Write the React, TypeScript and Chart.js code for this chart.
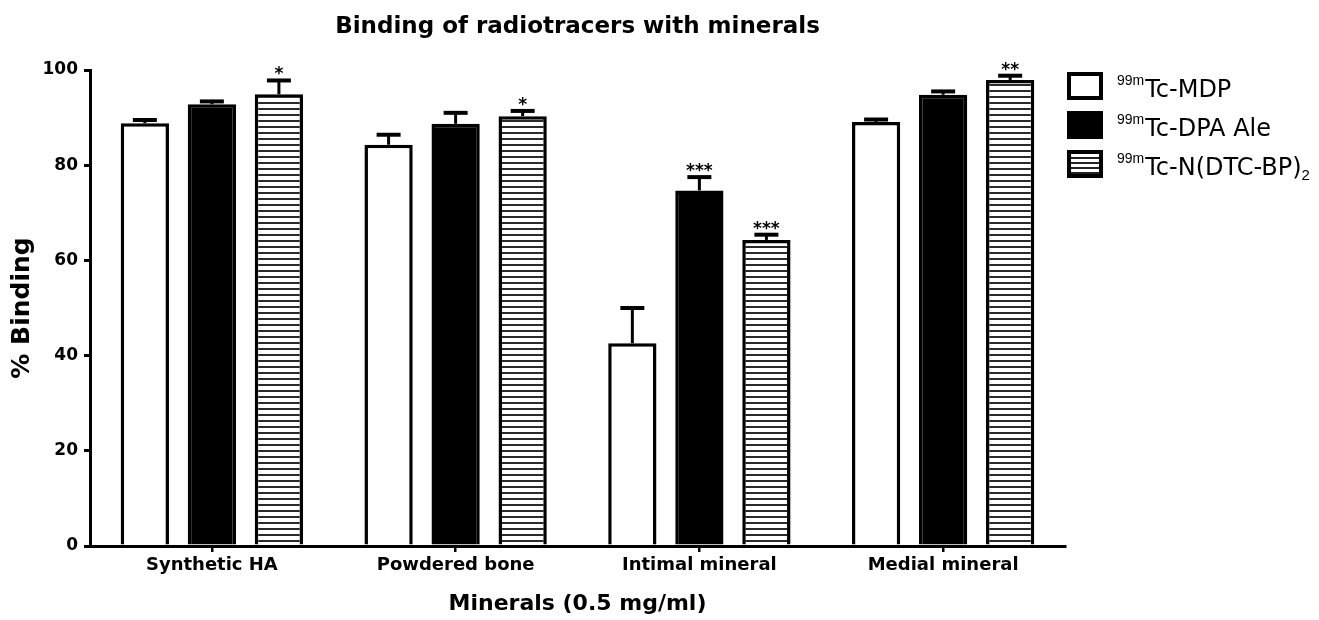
import React, { useEffect, useRef } from "react";
import { Chart, registerables } from "chart.js";

Chart.register(...registerables);

const categories = ["Synthetic HA", "Powdered bone", "Intimal mineral", "Medial mineral"];
const mdpValues = [88.8, 84.3, 42.6, 89.1];
const mdpErrors = [0.7, 2.1, 7.4, 0.5];
const dpaValues = [92.8, 88.7, 74.7, 94.8];
const dpaErrors = [0.6, 2.3, 2.8, 0.7];
const dtcValues = [94.9, 90.3, 64.3, 97.9];
const dtcErrors = [2.9, 1.1, 1.1, 0.9];
const mdpSig = ["", "", "", ""];
const dpaSig = ["", "", "***", ""];
const dtcSig = ["*", "*", "***", "**"];
const yMin = 0;
const yMax = 100;
const yStep = 20;

const FONT = "'DejaVu Sans', sans-serif";

const errorBarPlugin = {
  id: "errorBars",
  afterDatasetsDraw(chart: any) {
    const ctx = chart.ctx;
    const yScale = chart.scales.y;
    chart.data.datasets.forEach((ds: any, i: number) => {
      const meta = chart.getDatasetMeta(i);
      meta.data.forEach((bar: any, j: number) => {
        const v = ds.data[j];
        const top = yScale.getPixelForValue(v + ds.errors[j]);
        ctx.save();
        ctx.strokeStyle = "#000";
        ctx.lineWidth = 3;
        ctx.beginPath();
        ctx.moveTo(bar.x, bar.y);
        ctx.lineTo(bar.x, top);
        ctx.stroke();
        ctx.lineWidth = 4;
        ctx.beginPath();
        ctx.moveTo(bar.x - 12, top);
        ctx.lineTo(bar.x + 12, top);
        ctx.stroke();
        if (ds.sig[j]) {
          ctx.fillStyle = "#000";
          ctx.font = `bold 17px ${FONT}`;
          ctx.textAlign = "center";
          ctx.textBaseline = "alphabetic";
          ctx.fillText(ds.sig[j], bar.x, top - 1);
        }
        ctx.restore();
      });
    });
  },
};

function makeStripePattern(): CanvasPattern | string {
  const c = document.createElement("canvas");
  c.width = 8;
  c.height = 6;
  const g = c.getContext("2d");
  if (!g) return "#fff";
  g.fillStyle = "#fff";
  g.fillRect(0, 0, 8, 6);
  g.fillStyle = "#2a2a2a";
  g.fillRect(0, 0, 8, 2);
  const p = g.createPattern(c, "repeat");
  return p || "#fff";
}

export default function App() {
  const canvasRef = useRef<HTMLCanvasElement>(null);

  useEffect(() => {
    if (!canvasRef.current) return;
    const stripes = makeStripePattern();
    const chart = new Chart(canvasRef.current, {
      type: "bar",
      data: {
        labels: categories,
        datasets: [
          {
            label: "99mTc-MDP",
            data: mdpValues,
            errors: mdpErrors,
            sig: mdpSig,
            backgroundColor: "#fff",
            borderColor: "#000",
            borderWidth: 3.5,
          } as any,
          {
            label: "99mTc-DPA Ale",
            data: dpaValues,
            errors: dpaErrors,
            sig: dpaSig,
            backgroundColor: "#000",
            borderColor: "#000",
            borderWidth: 3.5,
          } as any,
          {
            label: "99mTc-N(DTC-BP)2",
            data: dtcValues,
            errors: dtcErrors,
            sig: dtcSig,
            backgroundColor: stripes,
            borderColor: "#000",
            borderWidth: 3.5,
          } as any,
        ],
      },
      options: {
        responsive: false,
        animation: false,
        devicePixelRatio: 1,
        color: "#000",
        datasets: {
          bar: {
            categoryPercentage: 0.825,
            barPercentage: 0.72,
          },
        },
        layout: { padding: { left: 0, right: 254, top: 0, bottom: 0 } },
        plugins: {
          legend: { display: false },
          tooltip: { enabled: false },
          title: {
            display: true,
            text: "Binding of radiotracers with minerals",
            fullSize: false,
            color: "#000",
            font: { family: FONT, size: 23, weight: "bold", lineHeight: 1.2 },
            padding: { top: 13, bottom: 29.4 },
          },
        },
        scales: {
          x: {
            type: "category",
            afterFit: (scale: any) => {
              scale.height = 74;
            },
            grid: {
              display: true,
              drawOnChartArea: false,
              drawTicks: true,
              tickLength: 6,
              lineWidth: 2.5,
              color: "#000",
              offset: false,
            },
            border: { display: true, width: 3, color: "#000" },
            ticks: {
              color: "#000",
              padding: 3,
              font: { family: FONT, size: 18, weight: "bold" },
            },
            title: {
              display: true,
              text: "Minerals (0.5 mg/ml)",
              color: "#000",
              font: { family: FONT, size: 22, weight: "bold", lineHeight: 1.2 },
              padding: { top: 0, bottom: 3 },
            },
          },
          y: {
            min: yMin,
            max: yMax,
            afterFit: (scale: any) => {
              scale.width = 90;
            },
            grid: {
              display: true,
              drawOnChartArea: false,
              drawTicks: true,
              tickLength: 6,
              lineWidth: 3,
              color: "#000",
            },
            border: { display: true, width: 3, color: "#000" },
            ticks: {
              stepSize: yStep,
              color: "#000",
              padding: 6,
              font: { family: FONT, size: 17, weight: "bold" },
            },
            title: {
              display: true,
              text: "% Binding",
              color: "#000",
              font: { family: FONT, size: 25, weight: "bold", lineHeight: 1.2 },
              padding: { top: 7, bottom: 0 },
            },
          },
        },
      } as any,
      plugins: [errorBarPlugin],
    });
    return () => chart.destroy();
  }, []);

  const boxBase: React.CSSProperties = {
    position: "absolute",
    left: 1067,
    width: 36,
    height: 28,
    border: "4px solid #000",
    boxSizing: "border-box",
  };
  const textBase: React.CSSProperties = {
    position: "absolute",
    left: 1117,
    fontFamily: FONT,
    fontSize: 24,
    lineHeight: "24px",
    color: "#000",
    whiteSpace: "nowrap",
  };
  const supStyle: React.CSSProperties = {
    fontFamily: "'Liberation Sans', Arial, sans-serif",
    fontSize: 14,
    position: "relative",
    top: -12,
    lineHeight: 0,
    marginRight: 1,
  };
  const subStyle: React.CSSProperties = {
    fontFamily: "'Liberation Sans', Arial, sans-serif",
    fontSize: 15,
    position: "relative",
    top: 5,
    lineHeight: 0,
  };

  return (
    <div
      style={{
        position: "absolute",
        left: 0,
        top: 0,
        width: 1319,
        height: 620,
        background: "#fff",
        overflow: "hidden",
      }}
    >
      <canvas ref={canvasRef} width={1319} height={620} style={{ display: "block" }} />
      <div style={{ ...boxBase, top: 72, background: "#fff" }} />
      <div style={{ ...boxBase, top: 111, background: "#000" }} />
      <div
        style={{
          ...boxBase,
          top: 150,
          backgroundImage:
            "repeating-linear-gradient(to bottom, #fff 0px, #fff 3px, #222 3px, #222 5px)",
        }}
      />
      <div style={{ ...textBase, top: 77 }}>
        <span style={supStyle}>99m</span>Tc-MDP
      </div>
      <div style={{ ...textBase, top: 116 }}>
        <span style={supStyle}>99m</span>Tc-DPA Ale
      </div>
      <div style={{ ...textBase, top: 155 }}>
        <span style={supStyle}>99m</span>Tc-N(DTC-BP)<span style={subStyle}>2</span>
      </div>
    </div>
  );
}
